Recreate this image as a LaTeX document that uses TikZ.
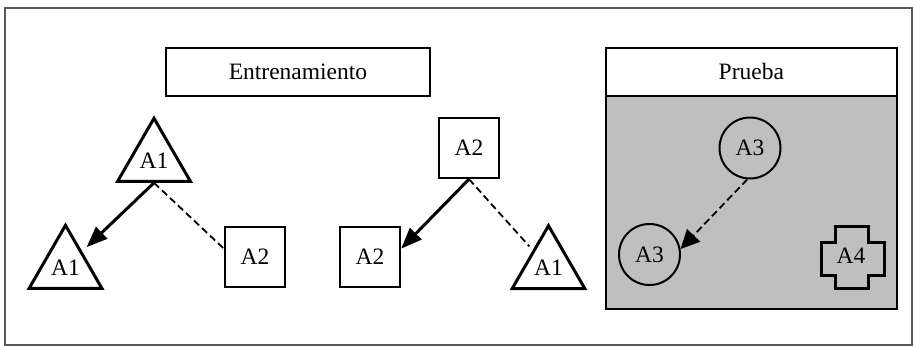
\documentclass[tikz,border=0pt]{standalone}
\usepackage{fontspec}
\setmainfont{Liberation Serif}
\usetikzlibrary{arrows.meta,shapes.geometric}
\begin{document}
\begin{tikzpicture}[x=1pt,y=-1pt,
  every node/.style={font=\fontsize{23.5}{28}\selectfont, inner sep=0pt},
  tri/.style={regular polygon, regular polygon sides=3, draw, line width=3pt, minimum size=84pt},
  sq/.style={rectangle, draw, line width=2.3pt, minimum size=60pt},
  circ/.style={circle, draw, line width=2pt, minimum size=61pt},
  titlebox/.style={rectangle, draw, line width=2.3pt, minimum height=48pt, fill=white},
  strongedge/.style={line width=3pt, -{Triangle[length=21pt,width=16pt]}},
  weakedge/.style={line width=1.8pt, dash pattern=on 7pt off 4pt},
  weakarrow/.style={weakedge, -{Triangle[length=19pt,width=18pt]}},
]
\useasboundingbox (0,0) rectangle (916,346);
\draw[black!65, line width=1.3pt] (5,8) rectangle (912,345);

% Entrenamiento
\node[titlebox, minimum width=264pt] (ent) at (298,72) {Entrenamiento};

% left tree
\node[tri] (ta) at (154,160.3) {A1};
\node[tri] (tb) at (65.5,267.3) {A1};
\node[sq] (sa) at (255,257) {A2};
\draw[strongedge, shorten >=6pt] (ta.side 2) -- (tb);
\draw[weakedge] (ta.side 2) -- (sa.165);

% middle tree
\node[sq] (sb) at (469,148) {A2};
\node[sq] (sc) at (370,257) {A2};
\node[tri] (tc) at (548.5,267.7) {A1};
\draw[strongedge] (sb.south) -- (sc.15);
\draw[weakedge, shorten >=5pt] (sb.south) -- (tc);

% Prueba
\fill[black!25] (605.7,95.7) rectangle (897,309);
\draw[line width=2.3pt] (605.7,95.7) rectangle (897,309);
\node[titlebox, minimum width=291.3pt] (pr) at (751.35,71.7) {Prueba};

\node[circ] (ca) at (750,148) {A3};
\node[circ] (cb) at (649.5,254.5) {A3};
\draw[weakarrow] (ca.265) -- (cb.10);

\draw[line width=3pt] (835,226) -- (868,226) -- (868,242) -- (884,242) -- (884,275)
  -- (868,275) -- (868,288) -- (835,288) -- (835,275) -- (821,275) -- (821,242)
  -- (835,242) -- cycle;
\node (a4) at (851,256) {A4};
\end{tikzpicture}
\end{document}
